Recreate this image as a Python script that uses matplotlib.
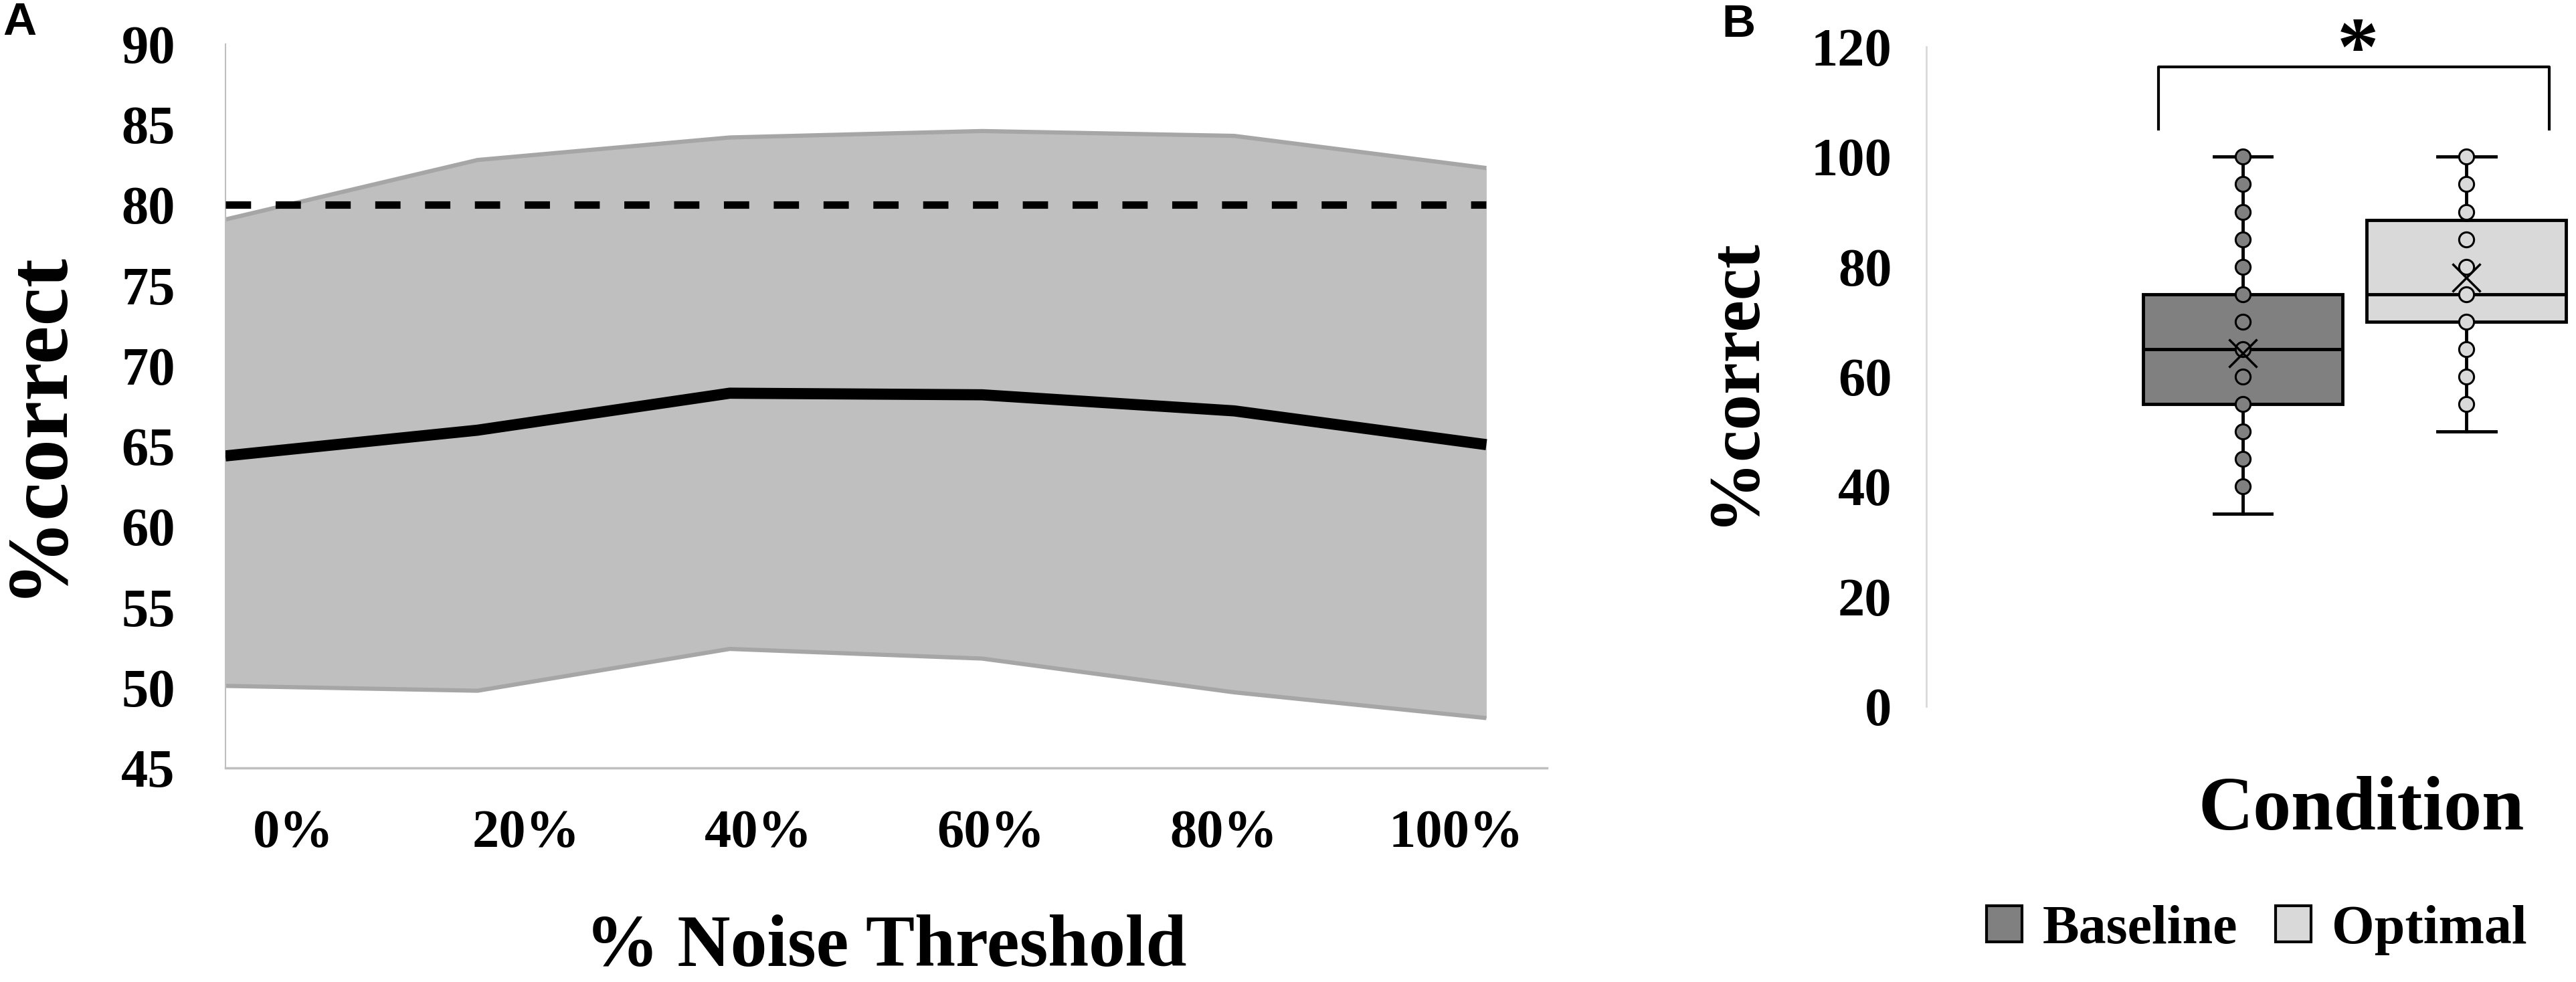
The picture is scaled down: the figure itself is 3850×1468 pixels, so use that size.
import matplotlib
matplotlib.use('Agg')
import matplotlib.pyplot as plt
import numpy as np
from matplotlib.patches import Patch

SERIF = 'Liberation Serif'
SANS = 'Liberation Sans'

# ---------------- Panel A data ----------------
noise_labels = ['0%', '20%', '40%', '60%', '80%', '100%']
mean_correct = [64.4, 66.0, 68.3, 68.2, 67.2, 65.1]
upper_bound = [79.1, 82.8, 84.2, 84.6, 84.3, 82.3]
lower_bound = [50.1, 49.8, 52.4, 51.8, 49.7, 48.1]
criterion = 80
a_yticks = [45, 50, 55, 60, 65, 70, 75, 80, 85, 90]

# ---------------- Panel B data ----------------
conditions = ['Baseline', 'Optimal']
baseline_points = [100, 95, 90, 85, 80, 75, 70, 65, 60, 55, 50, 45, 40]
optimal_points = [100, 95, 90, 85, 80, 75, 70, 65, 60, 55]
baseline_box = dict(whislo=35, q1=55, med=65, q3=75, whishi=100, mean=64.3)
optimal_box = dict(whislo=50, q1=70, med=75, q3=88.5, whishi=100, mean=78)
b_yticks = [0, 20, 40, 60, 80, 100, 120]
bracket_top = 116.3
bracket_leg = 105

box_colors = ['#808080', '#d9d9d9']

fig = plt.figure(figsize=(38.5, 14.68), dpi=100)

# ================= Panel A =================
axA = fig.add_axes([0.0875, 0.218, 0.513, 0.737])
x = np.arange(len(noise_labels))
axA.fill_between(x, lower_bound, upper_bound, color='#bfbfbf', lw=0, zorder=1)
axA.plot(x, upper_bound, color='#a6a6a6', lw=4.5, zorder=2, solid_capstyle='butt')
axA.plot(x, lower_bound, color='#a6a6a6', lw=4.5, zorder=2, solid_capstyle='butt')
axA.plot([x[0], x[-1]], [criterion, criterion], color='black', lw=8,
         dashes=(3.4, 3.3), dash_capstyle='butt', zorder=3)
axA.plot(x, mean_correct, color='black', lw=12, zorder=4,
         solid_capstyle='butt', solid_joinstyle='round')
axA.set_xlim(0, 5.24)
axA.set_ylim(45, 90)
axA.set_yticks(a_yticks)
axA.set_yticklabels([str(v) for v in a_yticks])
axA.set_xticks(np.linspace(0.27, 4.88, len(noise_labels)))
axA.set_xticklabels(noise_labels)
for s in ['top', 'right']:
    axA.spines[s].set_visible(False)
axA.spines['left'].set_color('#bfbfbf')
axA.spines['left'].set_linewidth(1.5)
axA.spines['bottom'].set_color('#bfbfbf')
axA.spines['bottom'].set_linewidth(2.5)
axA.tick_params(axis='y', length=0, pad=54)
axA.tick_params(axis='x', length=0, pad=45)
for lab in axA.get_xticklabels() + axA.get_yticklabels():
    lab.set_fontfamily(SERIF)
    lab.set_fontweight('bold')
    lab.set_fontsize(58)
axA.set_xlabel('% Noise Threshold', fontfamily=SERIF, fontweight='bold', fontsize=79)
axA.xaxis.set_label_coords(0.5, -0.249)
axA.xaxis.label.set_va('center')
axA.set_ylabel('%correct', fontfamily=SERIF, fontweight='bold', fontsize=93)
axA.yaxis.set_label_coords(-0.142, 0.476)
axA.yaxis.label.set_va('center')

# ================= Panel B =================
axB = fig.add_axes([0.7478, 0.2807, 0.2512, 0.6716])
stats = [dict(baseline_box, label=conditions[0]), dict(optimal_box, label=conditions[1])]
bp = axB.bxp(stats, positions=[1, 2], widths=0.89, capwidths=0.26,
             showmeans=True, showfliers=False, patch_artist=True,
             boxprops=dict(edgecolor='black', linewidth=3.5),
             whiskerprops=dict(color='black', linewidth=3.5),
             capprops=dict(color='black', linewidth=3.5),
             medianprops=dict(color='black', linewidth=3.5),
             meanprops=dict(marker='x', markersize=30, markeredgecolor='black',
                            markeredgewidth=2.5, zorder=6))
for patch, c in zip(bp['boxes'], box_colors):
    patch.set_facecolor(c)
axB.plot([1] * len(baseline_points), baseline_points, 'o', ms=16,
         mfc=box_colors[0], mec='black', mew=2.2, zorder=5)
axB.plot([2] * len(optimal_points), optimal_points, 'o', ms=16,
         mfc=box_colors[1], mec='black', mew=2.2, zorder=5)
axB.plot([0.623, 0.623, 2.37, 2.37], [bracket_leg, bracket_top, bracket_top, bracket_leg],
         color='black', lw=3, clip_on=False)
axB.text(1.515, 115.0, '*', ha='center', va='baseline', fontsize=90,
         fontfamily=SERIF, fontweight='bold', clip_on=False)
axB.set_xlim(-0.416, 2.479)
axB.set_ylim(0, 120)
axB.set_yticks(b_yticks)
axB.set_yticklabels([str(v) for v in b_yticks])
axB.set_xticks([])
for s in ['top', 'right', 'bottom']:
    axB.spines[s].set_visible(False)
axB.spines['left'].set_color('#d9d9d9')
axB.spines['left'].set_linewidth(2)
axB.tick_params(axis='y', length=0, pad=37)
for lab in axB.get_yticklabels():
    lab.set_fontfamily(SERIF)
    lab.set_fontweight('bold')
    lab.set_fontsize(58)
axB.set_ylabel('%correct', fontfamily=SERIF, fontweight='bold', fontsize=77)
axB.yaxis.set_label_coords(-0.296, 0.493)
axB.yaxis.label.set_va('center')
axB.set_xlabel('Condition', fontfamily=SERIF, fontweight='bold', fontsize=82)
axB.xaxis.set_label_coords(0.672, -0.158)
axB.xaxis.label.set_va('center')

handles = [Patch(facecolor=c, edgecolor='black', linewidth=3) for c in box_colors]
fig.legend(handles=handles, labels=conditions, loc='center', bbox_to_anchor=(0.876, 0.053),
           ncol=2, frameon=False, prop=dict(family=SERIF, weight='bold', size=59),
           handlelength=0.65, handleheight=0.65, handletextpad=0.37, columnspacing=0.7)

fig.text(0.001, 0.9986, 'A', ha='left', va='top', fontsize=50, fontfamily=SANS, fontweight='bold')
fig.text(0.6683, 0.9966, 'B', ha='left', va='top', fontsize=50, fontfamily=SANS, fontweight='bold')

fig.savefig('out.png', dpi=100)
